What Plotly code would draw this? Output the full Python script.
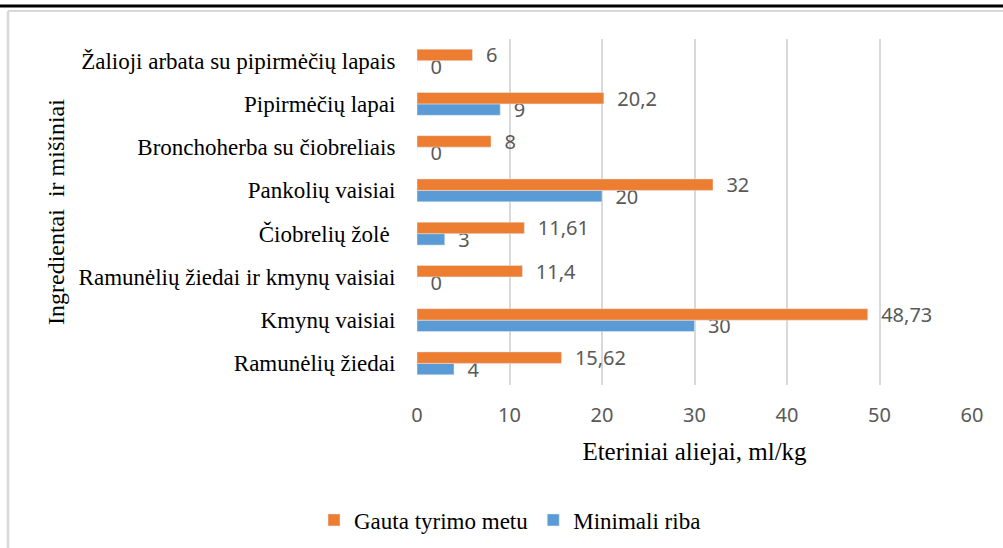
import plotly.graph_objects as go

categories = [
    "Ramunėlių žiedai",
    "Kmynų vaisiai",
    "Ramunėlių žiedai ir kmynų vaisiai",
    "Čiobrelių žolė ",
    "Pankolių vaisiai",
    "Bronchoherba su čiobreliais",
    "Pipirmėčių lapai",
    "Žalioji arbata su pipirmėčių lapais",
]
gauta = [15.62, 48.73, 11.4, 11.61, 32, 8, 20.2, 6]
minimali = [4, 30, 0, 3, 20, 0, 9, 0]
x_ticks = [0, 10, 20, 30, 40, 50, 60]

ORANGE = "#ED7D31"
BLUE = "#5B9BD5"


def fmt(v):
    s = ("%g" % v).replace(".", ",")
    return "  " + s


W, H = 1003, 548
L, R, T, B = 417, 31, 39, 163
pw, ph = W - L - R, H - T - B


def px(x):
    return (x - L) / pw


def py(y):
    return (H - B - y) / ph


sans = "Noto Sans, Open Sans, sans-serif"
serif = "Liberation Serif, Times New Roman, serif"
label_font = dict(family=sans, size=20, color="#595959")

fig = go.Figure()
fig.add_trace(go.Bar(
    y=categories, x=minimali, orientation="h", name="Minimali riba",
    marker=dict(color=BLUE), text=[fmt(v) for v in minimali],
    textposition="outside", textfont=label_font, constraintext="none",
    cliponaxis=False, legendrank=2,
))
fig.add_trace(go.Bar(
    y=categories, x=gauta, orientation="h", name="Gauta tyrimo metu",
    marker=dict(color=ORANGE), text=[fmt(v) for v in gauta],
    textposition="outside", textfont=label_font, constraintext="none",
    cliponaxis=False, legendrank=1,
))

fig.update_layout(
    width=W, height=H,
    margin=dict(l=L, r=R, t=T, b=B, autoexpand=False),
    paper_bgcolor="white", plot_bgcolor="white",
    barmode="group", bargap=0.47, bargroupgap=0,
    showlegend=True,
    legend=dict(orientation="h", x=px(510), xanchor="center", y=py(520), yanchor="middle",
                font=dict(family=serif, size=23, color="#000000"),
                traceorder="normal"),
    xaxis=dict(range=[0, 60], tickvals=x_ticks, showgrid=True, gridcolor="#d9d9d9", gridwidth=1.5,
               zeroline=False, showline=False,
               tickfont=dict(family=sans, size=20, color="#595959"),
               ticks="outside", ticklen=12, tickcolor="white",
               title=dict(text="Eteriniai aliejai, ml/kg", standoff=15,
                          font=dict(family=serif, size=25, color="#000000"))),
    yaxis=dict(categoryorder="array", categoryarray=categories, showgrid=False, showline=False,
               zeroline=False, ticks="outside", ticklen=16, tickcolor="white",
               tickfont=dict(family=serif, size=23, color="#000000")),
    shapes=[
        dict(type="line", xref="paper", yref="paper", x0=px(0), x1=px(W), y0=py(6), y1=py(6),
             line=dict(color="black", width=3)),
        dict(type="line", xref="paper", yref="paper", x0=px(8), x1=px(W), y0=py(11), y1=py(11),
             line=dict(color="#d9d9d9", width=2)),
        dict(type="line", xref="paper", yref="paper", x0=px(8), x1=px(8), y0=py(11), y1=py(H),
             line=dict(color="#d9d9d9", width=2.5)),
    ],
    annotations=[
        dict(text="Ingredientai  ir mišiniai", xref="paper", yref="paper", x=px(56), y=py(212),
             xanchor="center", yanchor="middle", textangle=-90, showarrow=False,
             font=dict(family=serif, size=24, color="#000000")),
    ],
)

fig.write_html("out.html", config={"displayModeBar": False},
               post_script="document.body.style.margin='0px';document.body.style.overflow='hidden';")
